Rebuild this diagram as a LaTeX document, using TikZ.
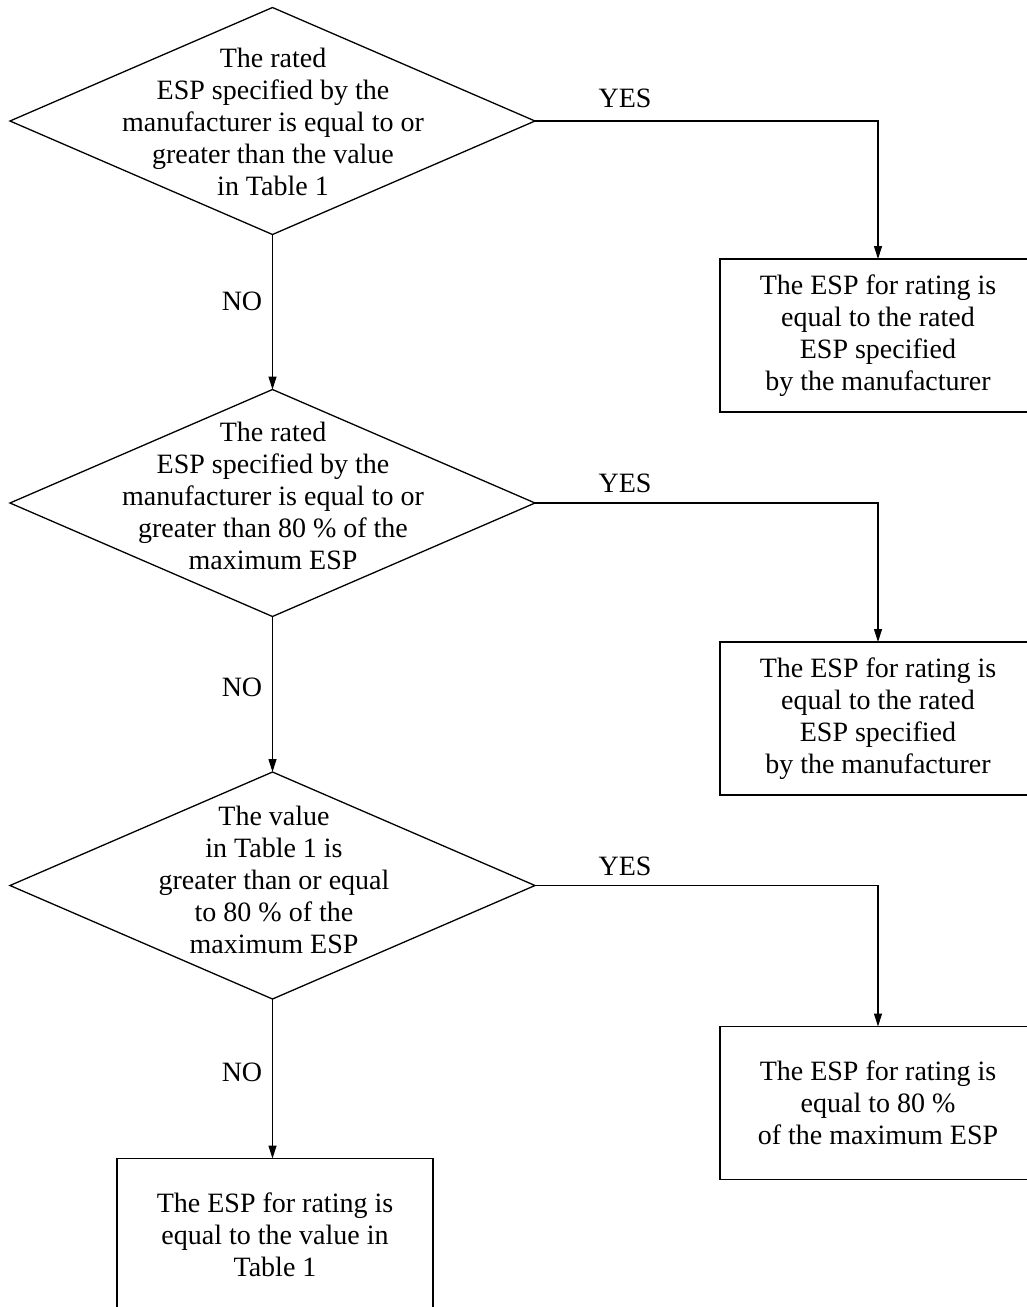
\documentclass[tikz,border=0pt]{standalone}
\usepackage{fontspec}
\setmainfont{Liberation Serif}
\usetikzlibrary{shapes.geometric,arrows.meta}
\begin{document}
\begin{tikzpicture}[x=1pt,y=-1pt,
  every node/.style={font=\fontsize{28}{32}\selectfont, inner sep=0pt, outer sep=0pt},
  decision/.style={draw, shape=diamond, line width=1.3pt, minimum width=525pt, minimum height=227pt},
  dtext/.style={align=center},
  result/.style={draw, rectangle, line width=1.6pt, minimum width=316pt, minimum height=153pt, align=center},
  flow/.style={line width=1.1pt, -{Triangle[length=13pt,width=8pt]}},
  lbl/.style={}]
\clip (0,0) rectangle (1027,1307);
% decisions
\node[decision] (d1) at (272.5,121) {};
\node[decision] (d2) at (272.5,503) {};
\node[decision] (d3) at (272.5,885.5) {};
\node[dtext] (t1) at (273,122) {The rated\\ESP specified by the\\manufacturer is equal to or\\greater than the value\\in Table 1};
\node[dtext] (t2) at (273,496) {The rated\\ESP specified by the\\manufacturer is equal to or\\greater than 80 \% of the\\maximum ESP};
\node[dtext] (t3) at (274,879.5) {The value\\in Table 1 is\\greater than or equal\\to 80 \% of the\\maximum ESP};
% results
\node[result] (r1) at (878,335.5) {The ESP for rating is\\equal to the rated\\ESP specified\\by the manufacturer};
\node[result] (r2) at (878,718.5) {The ESP for rating is\\equal to the rated\\ESP specified\\by the manufacturer};
\node[result] (r3) at (878,1103) {The ESP for rating is\\equal to 80 \%\\of the maximum ESP};
\node[result] (r4) at (275,1235) {The ESP for rating is\\equal to the value in\\Table 1};
% connectors
\draw[flow] (d1.east) -| (r1.north);
\draw[flow] (d2.east) -| (r2.north);
\draw[flow] (d3.east) -| (r3.north);
\draw[flow] (d1.south) -- (d2.north);
\draw[flow] (d2.south) -- (d3.north);
\draw[flow] (d3.south) -- (d3.south |- r4.north);
% labels
\node[lbl] (y1) at (625,98) {YES};
\node[lbl] (y2) at (625,483) {YES};
\node[lbl] (y3) at (625,866) {YES};
\node[lbl] (n1) at (242,301) {NO};
\node[lbl] (n2) at (242,687) {NO};
\node[lbl] (n3) at (242,1072) {NO};
\end{tikzpicture}
\end{document}
